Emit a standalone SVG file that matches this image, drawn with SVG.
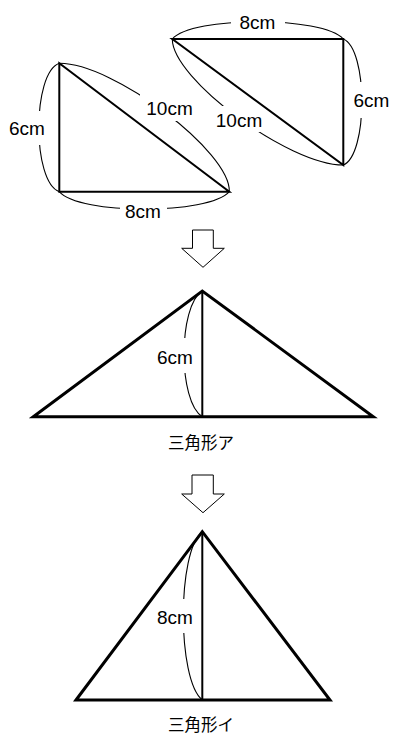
<svg xmlns="http://www.w3.org/2000/svg" width="400" height="747" viewBox="0 0 400 747">
<style>
.edge{fill:none;stroke:#000;stroke-width:2;stroke-linejoin:miter}
.thick{fill:none;stroke:#000;stroke-width:3;stroke-linejoin:miter}
.arc{fill:none;stroke:#000;stroke-width:1.1}
.lbl{font-family:"Liberation Sans",Arial,sans-serif;font-size:19px;fill:#000;text-anchor:middle}
.cap{font-family:"Noto Sans CJK JP","Noto Sans CJK SC",sans-serif;font-size:16.5px;fill:#000;text-anchor:middle}
.arrow{fill:#fff;stroke:#000;stroke-width:1}
</style>
<defs>
<mask id="gaps" maskUnits="userSpaceOnUse" x="0" y="0" width="400" height="747">
<rect x="0" y="0" width="400" height="747" fill="#fff"/>
<rect x="4" y="111" width="46" height="34" fill="#000"/>
<rect x="140" y="94" width="59" height="27" fill="#000"/>
<rect x="120" y="199" width="47" height="24" fill="#000"/>
<rect x="231" y="10" width="54" height="24" fill="#000"/>
<rect x="349" y="82" width="46" height="36" fill="#000"/>
<rect x="209" y="106" width="60" height="26" fill="#000"/>
<rect x="150" y="338" width="47" height="35" fill="#000"/>
<rect x="150" y="599" width="47" height="34" fill="#000"/>
</mask>
</defs>
<rect width="400" height="747" fill="#fff"/>

<g id="triangle-left">
<path class="edge" d="M59.3,63.3 L59.3,191.7 L229.3,191.7 Z"/>
</g>
<g id="triangle-right">
<path class="edge" d="M172.3,39 L343.3,39 L343.3,165 Z"/>
</g>

<g id="dimension-arcs" mask="url(#gaps)">
<path class="arc" d="M59.3,63.3 C32,73 32,182 59.3,191.7"/>
<path class="arc" d="M59.3,63.3 C113.6,63 231,152 229.3,191.7"/>
<path class="arc" d="M59.3,191.7 C79,215 209,215 229.3,191.7"/>
<path class="arc" d="M172.3,39 C192,16 323,16 343.3,39"/>
<path class="arc" d="M343.3,39 C368,49 368,155 343.3,165"/>
<path class="arc" d="M172.3,39 C172.3,79 288.7,165 343.3,165"/>
<path class="arc" d="M202.3,291 C178,306 178,402 202.3,416.7"/>
<path class="arc" d="M202.3,531.7 C177,551 177,680 202.3,700"/>
</g>

<g id="labels-top">
<text class="lbl" x="27" y="134.5">6cm</text>
<text class="lbl" x="169.5" y="114.5">10cm</text>
<text class="lbl" x="143" y="217.5">8cm</text>
<text class="lbl" x="257.5" y="28.5">8cm</text>
<text class="lbl" x="371.5" y="106.5">6cm</text>
<text class="lbl" x="239" y="126.5">10cm</text>
</g>

<g id="arrows">
<path id="arrow-1" class="arrow" d="M192.5,230 L213.3,230 L213.3,248.3 L224.3,248.3 L203,267.3 L181.7,248.3 L192.5,248.3 Z"/>
<path id="arrow-2" class="arrow" d="M192,475 L213.3,475 L213.3,494 L224.3,494 L203,512.7 L181.7,494 L192,494 Z"/>
</g>

<g id="triangle-a">
<path class="thick" d="M33.3,416.7 L202.3,291 L373.3,416.7 Z"/>
<line class="edge" x1="202.3" y1="291" x2="202.3" y2="416.7"/>
<text class="lbl" x="175" y="363.5">6cm</text>
<text class="cap" x="201" y="449">三角形ア</text>
</g>

<g id="triangle-i">
<path class="thick" d="M76,700 L202.3,531.7 L330,700 Z"/>
<line class="edge" x1="202.3" y1="531.7" x2="202.3" y2="700"/>
<text class="lbl" x="175" y="623.5">8cm</text>
<text class="cap" x="201" y="731">三角形イ</text>
</g>
</svg>
